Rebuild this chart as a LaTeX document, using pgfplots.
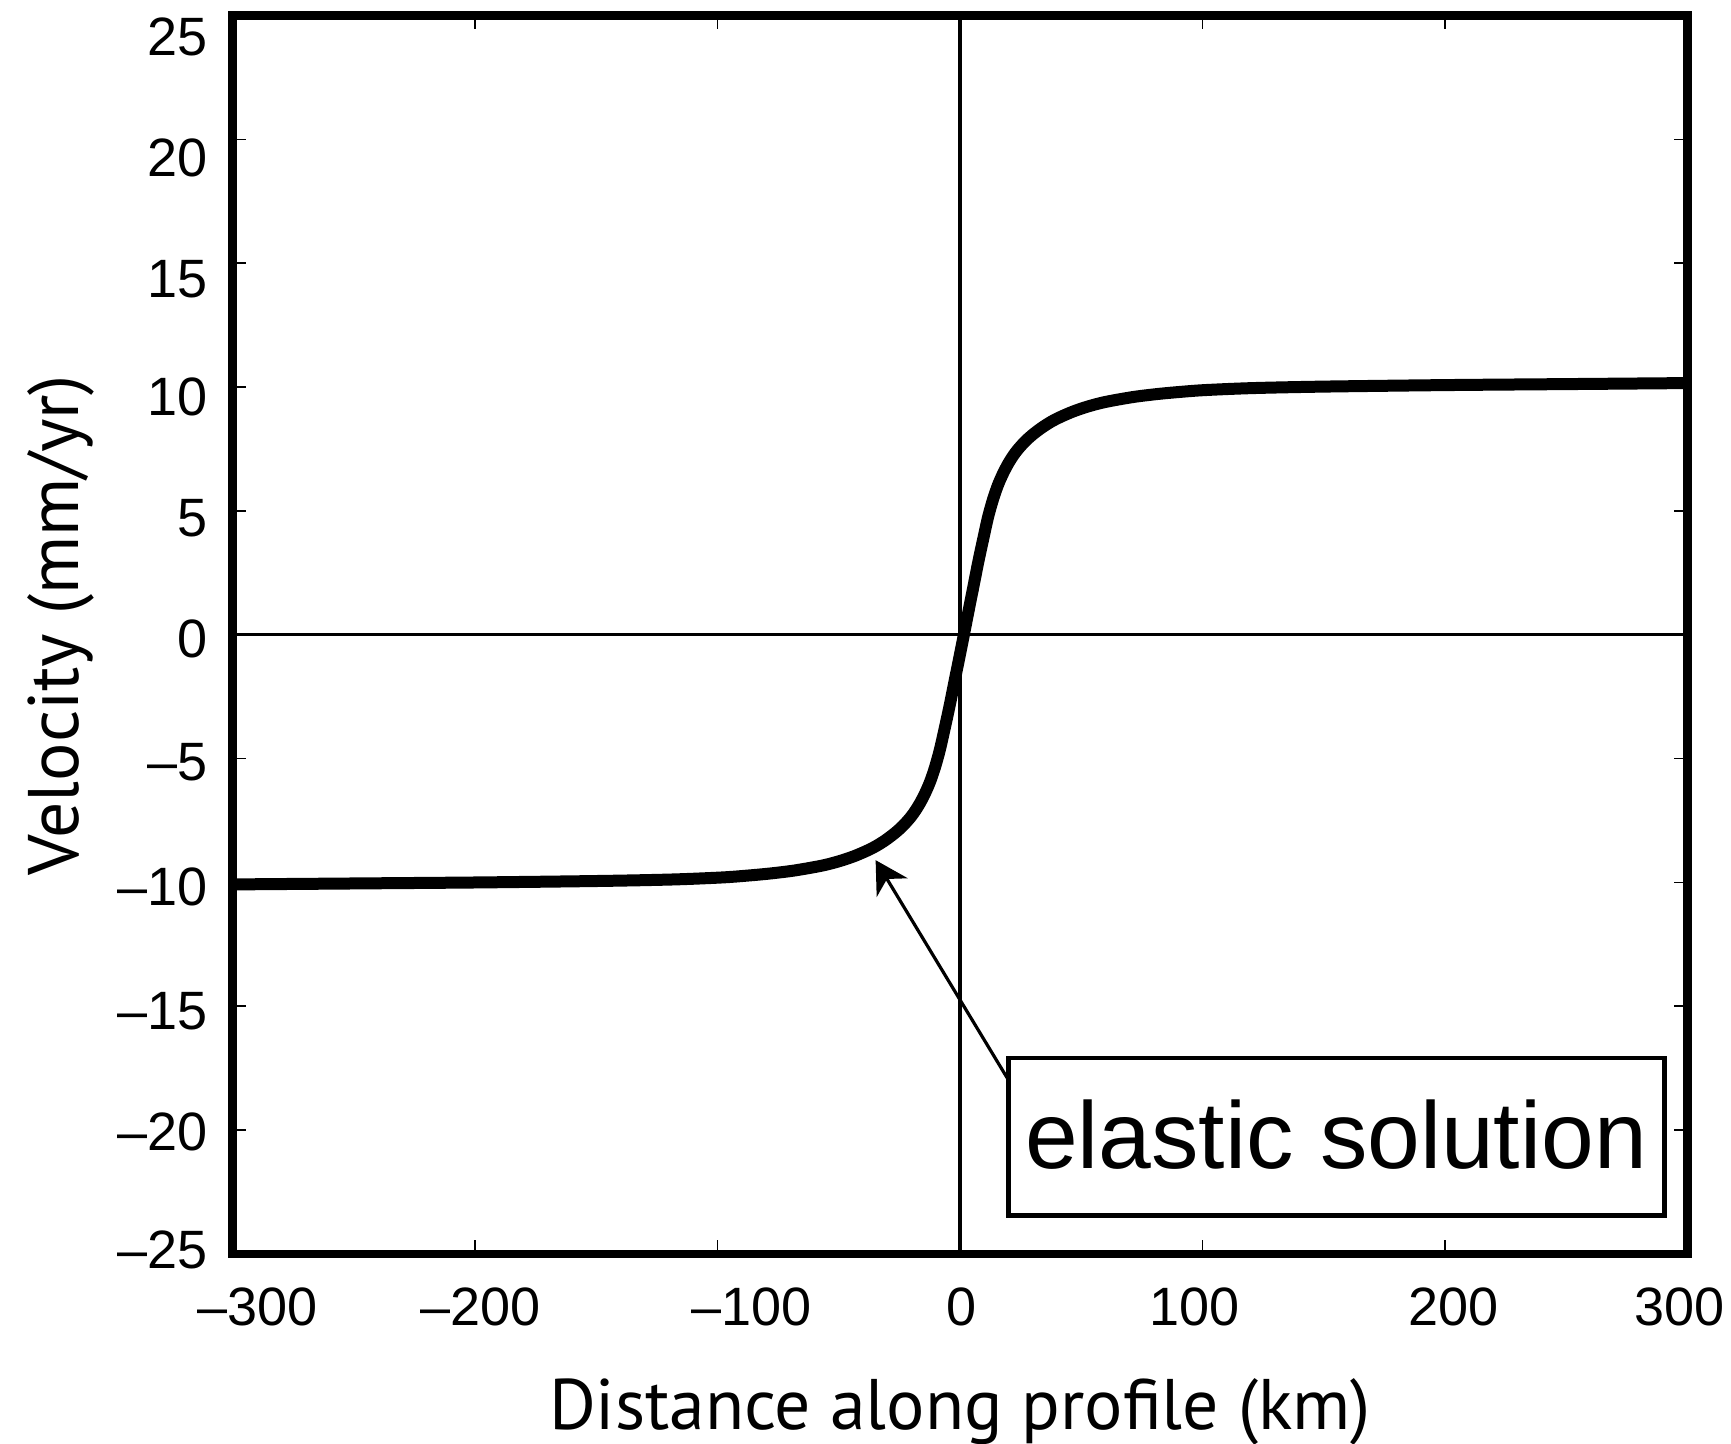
\documentclass[border=0pt]{standalone}
\usepackage{fontspec}
\setmainfont{Liberation Sans}
\newfontfamily\labelfont{PT Sans}
\usepackage{pgfplots}
\pgfplotsset{compat=1.18}
\usetikzlibrary{arrows.meta}

% shift a tick label sideways / up-down
\newcommand{\sx}[2]{\makebox[0pt]{\hspace*{#1}\hspace*{#1}#2}}
\newcommand{\sy}[2]{\raisebox{#1}[0pt][0pt]{#2}}

\begin{document}
\begin{tikzpicture}
\begin{axis}[
  scale only axis,
  width=363.75pt,
  height=309.625pt,
  xmin=-300, xmax=300,
  ymin=-25, ymax=25,
  xtick={-300,-200,...,300},
  ytick={-25,-20,...,25},
  xticklabels={\sx{6.25pt}{–300},\sx{1.4pt}{–200},\sx{8.4pt}{–100},\sx{0.5pt}{0},\sx{-2pt}{100},\sx{2.2pt}{200},\sx{-2.1pt}{300}},
  yticklabels={\sy{-3.6pt}{–25},\sy{-5.2pt}{–20},\sy{-5.8pt}{–15},\sy{-5.8pt}{–10},\sy{-5.6pt}{–5},\sy{-5.6pt}{0},\sy{-6.5pt}{5},\sy{-7.1pt}{10},\sy{-8.6pt}{15},\sy{-9.3pt}{20},\sy{-10.1pt}{25}},
  tick align=inside,
  major tick length=3.4pt,
  every tick/.style={black, line width=0.4pt},
  axis line style={line width=2.1pt},
  axis on top,
  tick label style={font=\fontsize{13.5}{15}\selectfont, inner sep=0pt},
  xticklabel style={anchor=north, yshift=-8.25pt},
  yticklabel style={anchor=east, xshift=-6.1pt},
  xlabel={Distance along profile (km)},
  ylabel={Velocity (mm/yr)},
  every axis x label/.style={at={(rel axis cs:0.5,0)}, anchor=base, yshift=-43.75pt,
    font=\labelfont\fontsize{17.9}{20}\selectfont},
  every axis y label/.style={at={(rel axis cs:0,0.5)}, xshift=-38.4pt, yshift=2.4pt, rotate=90, anchor=base,
    font=\labelfont\fontsize{17.9}{20}\selectfont},
]
\draw[line width=0.8pt] (axis cs:0,-25) -- (axis cs:0,25);
\draw[line width=0.8pt] (axis cs:-300,0) -- (axis cs:300,0);

\addplot[black, line width=3pt, smooth, tension=0.5, line join=round] coordinates {
  (-300,-10.08) (-248.4,-10.04) (-198.4,-10.00) (-148.4,-9.94) (-118.4,-9.88)
  (-98.4,-9.80) (-88.4,-9.73) (-78.4,-9.64) (-68.4,-9.52) (-58.4,-9.35)
  (-53.4,-9.24) (-48.4,-9.10) (-43.4,-8.93) (-38.4,-8.72) (-34.4,-8.52)
  (-30.4,-8.27) (-26.4,-7.97) (-23.4,-7.70) (-20.4,-7.37) (-18.4,-7.10)
  (-16.4,-6.78) (-14.4,-6.40) (-12.4,-5.95) (-10.4,-5.38) (-8.4,-4.68)
  (-6.4,-3.82) (-4.4,-2.92) (-2.4,-1.95) (-0.4,-0.98) (1.6,0)
  (3.6,1.00) (5.6,1.98) (7.6,2.97) (9.6,3.88) (11.6,4.76)
  (13.6,5.46) (15.6,6.03) (17.6,6.48) (19.6,6.86) (21.6,7.18)
  (23.6,7.45) (26.6,7.78) (29.6,8.05) (33.6,8.35) (37.6,8.60)
  (41.6,8.80) (46.6,9.01) (51.6,9.18) (56.6,9.32) (61.6,9.43)
  (71.6,9.60) (81.6,9.72) (91.6,9.81) (101.6,9.88) (121.6,9.96)
  (151.6,10.02) (201.6,10.08) (251.6,10.12) (300,10.16)
};

\draw[line width=1.2pt, fill=white] (axis cs:20,-23.43) rectangle (axis cs:290.5,-17.09);
\node[anchor=base, inner sep=0pt, font=\fontsize{23.7}{26}\selectfont] at (axis cs:155.05,-21.54) {elastic solution};
\draw[line width=0.8pt, -{Stealth[length=8pt,width=9pt,inset=2.5pt]}] (axis cs:20,-17.98) -- (axis cs:-34.8,-9.10);

\coordinate (bl) at (rel axis cs:0,0);
\coordinate (tr) at (rel axis cs:1,1);
\end{axis}
\pgfresetboundingbox
\path[use as bounding box] ([xshift=-58.125pt,yshift=-47.25pt]bl) rectangle ([xshift=10.875pt,yshift=3.875pt]tr);
\end{tikzpicture}
\end{document}
